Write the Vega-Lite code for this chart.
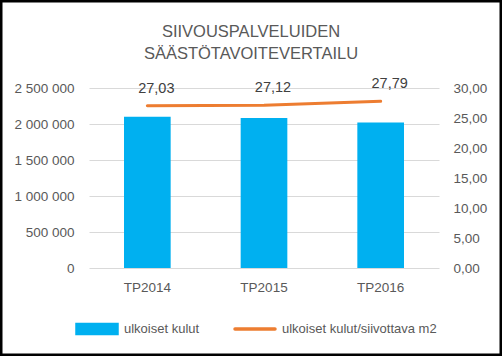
{
  "$schema": "https://vega.github.io/schema/vega-lite/v6.json",
  "width": 502,
  "height": 356,
  "autosize": "none",
  "padding": 0,
  "background": "white",
  "title": {
    "text": ["SIIVOUSPALVELUIDEN", "SÄÄSTÖTAVOITEVERTAILU"],
    "anchor": "middle",
    "baseline": "top",
    "offset": -62,
    "font": "Liberation Sans",
    "fontSize": 16.5,
    "fontWeight": "normal",
    "color": "#595959",
    "lineHeight": 22
  },
  "data": {
    "values": [
      {"year": "TP2014", "kulut": 2100000, "m2": 27.03},
      {"year": "TP2015", "kulut": 2085000, "m2": 27.12},
      {"year": "TP2016", "kulut": 2020000, "m2": 27.79}
    ]
  },
  "encoding": {
    "x": {
      "field": "year",
      "type": "nominal",
      "scale": {"range": [89, 439], "paddingInner": 0.6, "paddingOuter": 0.3},
      "axis": {
        "title": null,
        "orient": "bottom",
        "offset": -88,
        "labelAngle": 0,
        "domain": false,
        "ticks": false,
        "tickSize": 0,
        "labelPadding": 12,
        "labelFont": "Liberation Sans",
        "labelFontSize": 13.5,
        "labelColor": "#595959",
        "grid": false
      }
    }
  },
  "layer": [
    {
      "mark": {"type": "bar", "color": "#00B0F0"},
      "encoding": {
        "y": {
          "field": "kulut",
          "type": "quantitative",
          "scale": {"domain": [0, 2500000], "range": [268, 88]},
          "axis": {
            "title": null,
            "orient": "left",
            "offset": -89,
            "values": [0, 500000, 1000000, 1500000, 2000000, 2500000],
            "format": ",.0f",
            "domain": false,
            "ticks": false,
            "tickSize": 0,
            "labelPadding": 15,
            "labelFont": "Liberation Sans",
            "labelFontSize": 13.5,
            "labelColor": "#595959",
            "grid": true,
            "gridColor": "#D9D9D9",
            "gridWidth": 1
          }
        },
        "color": {
          "datum": "ulkoiset kulut",
          "type": "nominal",
          "scale": {"domain": ["ulkoiset kulut", "ulkoiset kulut/siivottava m2"], "range": ["#00B0F0", "#ED7D31"]},
          "legend": {
            "title": null,
            "orient": "none",
            "legendX": 75,
            "legendY": 307,
            "direction": "horizontal",
            "gridAlign": "none",
            "symbolSize": 1600,
            "labelFont": "Liberation Sans",
            "labelFontSize": 13,
            "labelColor": "#595959",
            "labelOffset": 5,
            "labelLimit": 400,
            "columnPadding": 28,
            "encode": {
              "symbols": {
                "update": {
                  "shape": {"signal": "datum.value === 'ulkoiset kulut' ? 'M-1,-0.23H1V0.23H-1Z' : 'M-1,0H1'"},
                  "fill": {"signal": "datum.value === 'ulkoiset kulut' ? '#00B0F0' : 'transparent'"},
                  "stroke": {"signal": "datum.value === 'ulkoiset kulut' ? 'transparent' : '#ED7D31'"},
                  "strokeWidth": {"value": 3.5},
                  "strokeCap": {"value": "round"},
                  "opacity": {"value": 1},
                  "fillOpacity": {"value": 1},
                  "strokeOpacity": {"value": 1}
                }
              }
            }
          }
        }
      }
    },
    {
      "encoding": {
        "y": {
          "field": "m2",
          "type": "quantitative",
          "scale": {"domain": [0, 30], "range": [268, 88]},
          "axis": {
            "title": null,
            "orient": "right",
            "offset": -61,
            "values": [0, 5, 10, 15, 20, 25, 30],
            "format": ".2f",
            "domain": false,
            "ticks": false,
            "tickSize": 0,
            "labelPadding": 12,
            "labelFont": "Liberation Sans",
            "labelFontSize": 13.5,
            "labelColor": "#595959",
            "grid": false
          }
        }
      },
      "layer": [
        {
          "mark": {"type": "line", "color": "#ED7D31", "strokeWidth": 3, "strokeCap": "round"},
          "encoding": {"color": {"datum": "ulkoiset kulut/siivottava m2", "type": "nominal"}}
        },
        {
          "mark": {"type": "text", "baseline": "middle", "align": "center", "dx": 9, "dy": -17, "font": "Liberation Sans", "fontSize": 14.5, "color": "#404040"},
          "encoding": {"text": {"field": "m2", "type": "quantitative", "format": ".2f"}}
        }
      ]
    }
  ],
  "resolve": {"scale": {"y": "independent"}},
  "config": {
    "locale": {"number": {"decimal": ",", "thousands": " ", "grouping": [3], "currency": ["", " €"]}},
    "view": {"stroke": "black", "strokeWidth": 5}
  }
}
